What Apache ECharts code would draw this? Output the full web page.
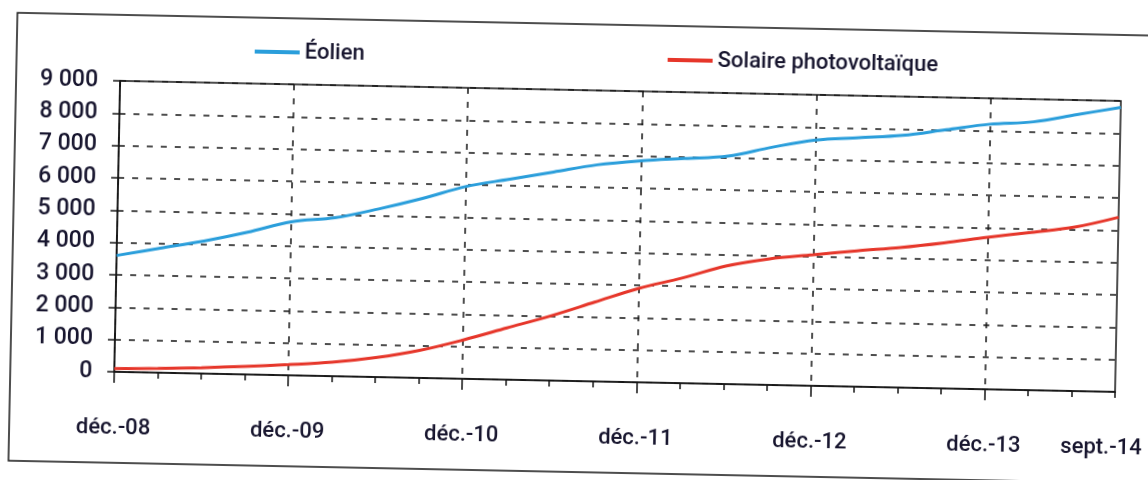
<!DOCTYPE html>
<html>
<head>
<meta charset="utf-8">
<script src="https://cdn.jsdelivr.net/npm/echarts@6/dist/echarts.min.js"></script>
<style>
  html, body { margin: 0; padding: 0; background: #ffffff; }
  #chart {
    width: 1148px; height: 480px;
    transform: rotate(1.15deg);
    transform-origin: 574px 240px;
  }
</style>
</head>
<body>
<div id="chart"></div>
<script>
// Quarterly installed capacity (MW), Dec 2008 to Sept 2014
const quarters = [
  'déc.-08', 'mars-09', 'juin-09', 'sept.-09',
  'déc.-09', 'mars-10', 'juin-10', 'sept.-10',
  'déc.-10', 'mars-11', 'juin-11', 'sept.-11',
  'déc.-11', 'mars-12', 'juin-12', 'sept.-12',
  'déc.-12', 'mars-13', 'juin-13', 'sept.-13',
  'déc.-13', 'mars-14', 'juin-14', 'sept.-14'
];
const eolien = [
  3600, 3850, 4100, 4400, 4750, 4900, 5200, 5550,
  5950, 6200, 6450, 6700, 6850, 6950, 7050, 7350,
  7600, 7700, 7800, 8000, 8200, 8300, 8550, 8800
];
const solaire = [
  100, 130, 180, 250, 330, 430, 600, 850,
  1200, 1600, 2000, 2450, 2900, 3250, 3650, 3900,
  4050, 4200, 4330, 4500, 4700, 4880, 5070, 5400
];
const seriesNames = ['Éolien', 'Solaire photovoltaïque'];
const yMin = 0, yMax = 9000, yStep = 1000;

const FONT = 'Roboto, "Open Sans", "DejaVu Sans", sans-serif';
const WEIGHT = 500;
const TEXT = '#17152e';
const INK = '#151515';
const DASH = [6, 8];

const lastIdx = quarters.length - 1;
const isYear = (i) => i % 4 === 0;
const fmtThousands = (v) => String(v).replace(/\B(?=(\d{3})+(?!\d))/g, ' ');

const chart = echarts.init(document.getElementById('chart'), null, { renderer: 'canvas' });

const legendText = { fontFamily: FONT, fontSize: 22, fontWeight: WEIGHT, color: TEXT, lineHeight: 24 };

chart.setOption({
  animation: false,
  backgroundColor: '#ffffff',
  textStyle: { fontFamily: FONT },
  graphic: [{
    type: 'rect', silent: true, z: -10,
    shape: { x: 13, y: 24, width: 1200, height: 448 },
    style: { fill: 'none', stroke: INK, lineWidth: 1.5 }
  }],
  legend: [
    {
      data: [seriesNames[0]], left: 251, top: 46, padding: 0,
      icon: 'rect', itemWidth: 45, itemHeight: 4, selectedMode: false,
      textStyle: legendText
    },
    {
      data: [seriesNames[1]], left: 664, top: 46, padding: 0,
      icon: 'rect', itemWidth: 45, itemHeight: 4, selectedMode: false,
      textStyle: legendText
    }
  ],
  grid: {
    left: 117, right: 30, top: 90, bottom: 99,
    outerBoundsMode: 'none', containLabel: false,
    show: true, borderColor: INK, borderWidth: 1.5, backgroundColor: 'transparent'
  },
  xAxis: [
    {
      type: 'category', data: quarters, boundaryGap: false, position: 'bottom',
      axisLine: { lineStyle: { color: INK, width: 1.5 } },
      axisTick: { show: true, interval: 0, length: 6, lineStyle: { color: INK, width: 1.5 } },
      axisLabel: {
        interval: (i) => isYear(i) || i === lastIdx,
        margin: 45, fontFamily: FONT, fontSize: 22, fontWeight: WEIGHT, color: TEXT, lineHeight: 22,
        hideOverlap: false,
        formatter: (v, i) => i === lastIdx ? '{last|' + v + '}' : v,
        rich: { last: { fontFamily: FONT, fontSize: 22, fontWeight: WEIGHT, color: TEXT, padding: [0, 26, 0, 0] } }
      },
      splitLine: {
        show: true, interval: (i) => isYear(i),
        lineStyle: { color: INK, width: 1.5, type: DASH }
      }
    },
    {
      type: 'category', data: quarters, boundaryGap: false, position: 'bottom',
      axisLine: { show: false },
      axisTick: { show: true, interval: (i) => isYear(i), length: 11, lineStyle: { color: INK, width: 1.5 } },
      axisLabel: { show: false },
      splitLine: { show: false }
    }
  ],
  yAxis: {
    type: 'value', min: yMin, max: yMax, interval: yStep,
    axisLine: { show: true, lineStyle: { color: INK, width: 1.5 } },
    axisTick: { show: true, length: 7, lineStyle: { color: INK, width: 1.5 } },
    axisLabel: {
      margin: 22, fontFamily: FONT, fontSize: 23, fontWeight: WEIGHT, color: TEXT,
      formatter: fmtThousands
    },
    splitLine: { show: true, lineStyle: { color: INK, width: 1.5, type: DASH } }
  },
  series: [
    {
      name: seriesNames[0], type: 'line', data: eolien, xAxisIndex: 0,
      smooth: 0.35, showSymbol: false, symbol: 'none',
      color: '#2a9edb', lineStyle: { color: '#2a9edb', width: 3 },
      itemStyle: { color: '#2a9edb' }, z: 5
    },
    {
      name: seriesNames[1], type: 'line', data: solaire, xAxisIndex: 0,
      smooth: 0.35, showSymbol: false, symbol: 'none',
      color: '#e6362a', lineStyle: { color: '#e6362a', width: 3 },
      itemStyle: { color: '#e6362a' }, z: 5
    }
  ]
});
</script>
</body>
</html>
